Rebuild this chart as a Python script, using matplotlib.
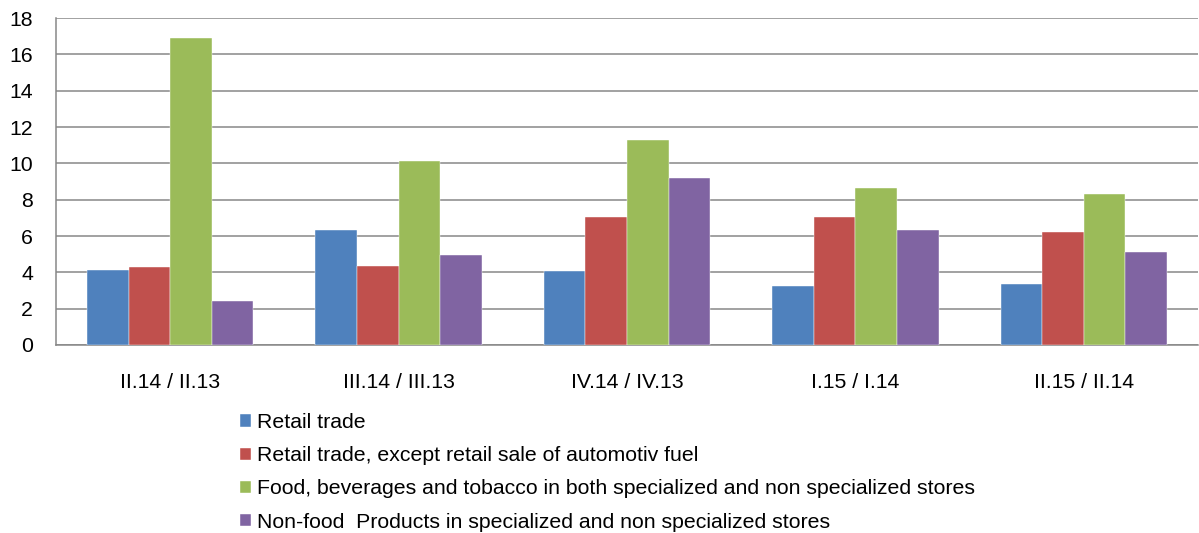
import matplotlib
matplotlib.use("Agg")
import matplotlib.pyplot as plt
import numpy as np

categories = ["II.14 / II.13", "III.14 / III.13", "IV.14 / IV.13", "I.15 / I.14", "II.15 / II.14"]
series_names = [
    "Retail trade",
    "Retail trade, except retail sale of automotiv fuel",
    "Food, beverages and tobacco in both specialized and non specialized stores",
    "Non-food  Products in specialized and non specialized stores",
]
retail = [4.15, 6.35, 4.09, 3.27, 3.38]
retail_ex_fuel = [4.28, 4.35, 7.06, 7.06, 6.20]
food = [16.92, 10.13, 11.28, 8.64, 8.33]
non_food = [2.42, 4.97, 9.17, 6.33, 5.12]
yticks = [0, 2, 4, 6, 8, 10, 12, 14, 16, 18]

series = [retail, retail_ex_fuel, food, non_food]
colors = ["#4F81BD", "#C0504D", "#9BBB59", "#8064A2"]

plt.rcParams['font.family'] = ['Liberation Sans', 'DejaVu Sans']
FS = 15.3

fig = plt.figure(figsize=(11.99, 5.33), dpi=100)
ax = fig.add_axes([56/1199, 1 - 345/533, 1 - 56/1199 - 1/1199, (345 - 18)/533])

x = np.arange(len(categories))
w = 0.182
handles = []
for i, (vals, c, name) in enumerate(zip(series, colors, series_names)):
    b = ax.bar(x + (i - 1.5) * w, vals, width=w, color=c, label=name, zorder=3,
               edgecolor='white', linewidth=0.3)
    handles.append(b)

ax.set_xlim(-0.5, len(categories) - 0.5)
ax.set_ylim(0, 18)
ax.set_yticks(yticks)
ax.set_yticklabels([str(t) for t in yticks], fontsize=FS)
ax.set_xticks(x)
ax.set_xticklabels(categories, fontsize=FS)
ax.tick_params(axis='x', length=0, pad=20)
ax.tick_params(axis='y', length=0, pad=16.5)
ax.grid(axis='y', color='#878787', linewidth=1.1, zorder=0)
for s in ['top', 'right']:
    ax.spines[s].set_visible(False)
for s in ['left', 'bottom']:
    ax.spines[s].set_color('#878787')
    ax.spines[s].set_linewidth(1.1)

fig.legend(handles=handles, labels=series_names, loc='upper left',
           bbox_to_anchor=(240/1199, 1 - 413/533), frameon=False, fontsize=FS,
           handlelength=0.5, handleheight=0.5, handletextpad=0.3,
           labelspacing=0.67, borderpad=0, borderaxespad=0)

fig.savefig("out.png", dpi=100)
